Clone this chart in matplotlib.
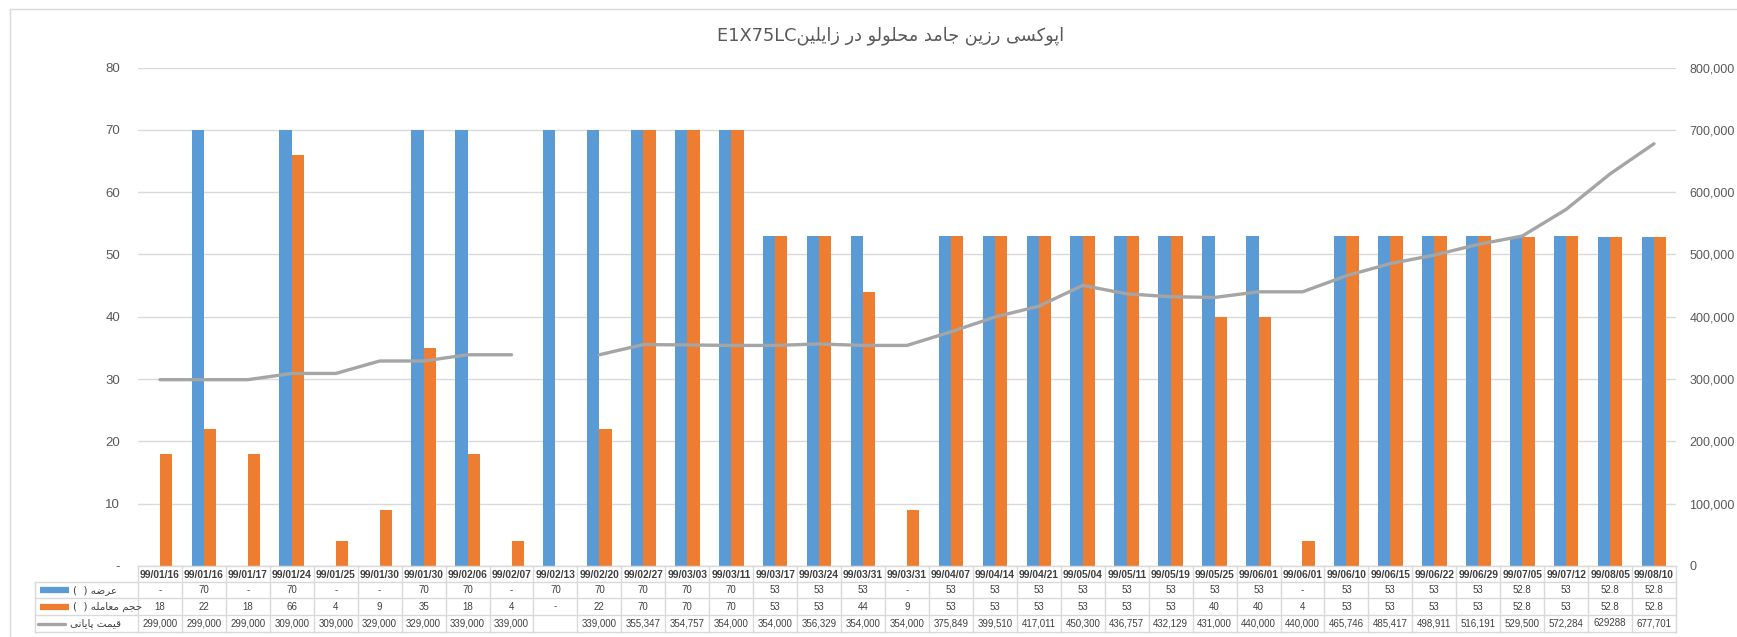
import numpy as np
import matplotlib
matplotlib.use("Agg")
import matplotlib.pyplot as plt
from matplotlib import transforms
from matplotlib.lines import Line2D

# ---- data -------------------------------------------------------------
dates = ["99/01/16", "99/01/16", "99/01/17", "99/01/24", "99/01/25", "99/01/30",
         "99/01/30", "99/02/06", "99/02/07", "99/02/13", "99/02/20", "99/02/27",
         "99/03/03", "99/03/11", "99/03/17", "99/03/24", "99/03/31", "99/03/31",
         "99/04/07", "99/04/14", "99/04/21", "99/05/04", "99/05/11", "99/05/19",
         "99/05/25", "99/06/01", "99/06/01", "99/06/10", "99/06/15", "99/06/22",
         "99/06/29", "99/07/05", "99/07/12", "99/08/05", "99/08/10"]

nan = np.nan
supply = [nan, 70, nan, 70, nan, nan, 70, 70, nan, 70, 70, 70, 70, 70, 53, 53, 53, nan,
          53, 53, 53, 53, 53, 53, 53, 53, nan, 53, 53, 53, 53, 52.8, 53, 52.8, 52.8]

volume = [18, 22, 18, 66, 4, 9, 35, 18, 4, nan, 22, 70, 70, 70, 53, 53, 44, 9,
          53, 53, 53, 53, 53, 53, 40, 40, 4, 53, 53, 53, 53, 52.8, 53, 52.8, 52.8]

price = [299000, 299000, 299000, 309000, 309000, 329000, 329000, 339000, 339000, nan,
         339000, 355347, 354757, 354000, 354000, 356329, 354000, 354000, 375849,
         399510, 417011, 450300, 436757, 432129, 431000, 440000, 440000, 465746,
         485417, 498911, 516191, 529500, 572284, 629288, 677701]

# price cells that are shown without a thousands separator
plain_price_cells = {33}

title_fa = "اپوکسی رزین جامد محلولو در زایلین"
title_code = "E1X75LC"
series_names = ["عرضه (  )", "حجم معامله (  )", "قیمت پایانی"]

left_ticks = [0, 10, 20, 30, 40, 50, 60, 70, 80]
right_ticks = [0, 100000, 200000, 300000, 400000, 500000, 600000, 700000, 800000]

BLUE = "#5B9BD5"
ORANGE = "#ED7D31"
GREY = "#A5A5A5"
GRID = "#D9D9D9"
TEXT = "#595959"
CELL_TEXT = "#404040"

# ---- minimal Persian shaping (contextual forms + visual order) ----------
FORMS = {
    'ا': ('\uFE8D', '\uFE8E', None, None),
    'د': ('\uFEA9', '\uFEAA', None, None),
    'ر': ('\uFEAD', '\uFEAE', None, None),
    'ز': ('\uFEAF', '\uFEB0', None, None),
    'و': ('\uFEED', '\uFEEE', None, None),
    'پ': ('\uFB56', '\uFB57', '\uFB58', '\uFB59'),
    'ت': ('\uFE95', '\uFE96', '\uFE97', '\uFE98'),
    'ج': ('\uFE9D', '\uFE9E', '\uFE9F', '\uFEA0'),
    'ح': ('\uFEA1', '\uFEA2', '\uFEA3', '\uFEA4'),
    'س': ('\uFEB1', '\uFEB2', '\uFEB3', '\uFEB4'),
    'ض': ('\uFEBD', '\uFEBE', '\uFEBF', '\uFEC0'),
    'ع': ('\uFEC9', '\uFECA', '\uFECB', '\uFECC'),
    'ق': ('\uFED5', '\uFED6', '\uFED7', '\uFED8'),
    'ک': ('\uFB8E', '\uFB8F', '\uFB90', '\uFB91'),
    'ل': ('\uFEDD', '\uFEDE', '\uFEDF', '\uFEE0'),
    'م': ('\uFEE1', '\uFEE2', '\uFEE3', '\uFEE4'),
    'ن': ('\uFEE5', '\uFEE6', '\uFEE7', '\uFEE8'),
    'ه': ('\uFEE9', '\uFEEA', '\uFEEB', '\uFEEC'),
    'ی': ('\uFBFC', '\uFBFD', '\uFBFE', '\uFBFF'),
}
MIRROR = {'(': ')', ')': '('}


def shape_rtl(text):
    out = []
    for i, ch in enumerate(text):
        forms = FORMS.get(ch)
        if forms is None:
            out.append(MIRROR.get(ch, ch))
            continue
        prev = text[i - 1] if i > 0 else ''
        nxt = text[i + 1] if i + 1 < len(text) else ''
        joins_prev = prev in FORMS and FORMS[prev][2] is not None
        joins_next = forms[2] is not None and nxt in FORMS
        if joins_prev and joins_next:
            g = forms[3]
        elif joins_prev:
            g = forms[1]
        elif joins_next:
            g = forms[2]
        else:
            g = forms[0]
        out.append(g)
    return ''.join(reversed(out))


# ---- figure & axes ------------------------------------------------------
W, H = 1737, 637
fig = plt.figure(figsize=(W / 100, H / 100), dpi=100)
fig.patch.set_facecolor("white")

# pixel-space transform (x from left, y from top)
px = transforms.Affine2D().scale(1 / W, -1 / H).translate(0, 1) + fig.transFigure

L, R, T, B = 138, 1676, 67.5, 566
ax = fig.add_axes([L / W, 1 - B / H, (R - L) / W, (B - T) / H])
n = len(dates)
x = np.arange(n)
bw = 0.28

ax.bar(x - bw / 2, supply, bw, color=BLUE, zorder=2)
ax.bar(x + bw / 2, volume, bw, color=ORANGE, zorder=2)
ax.set_xlim(-0.5, n - 0.5)
ax.set_ylim(0, 80)
ax.set_xticks([])
ax.set_yticks(left_ticks)
ax.set_yticklabels(["-" if v == 0 else str(v) for v in left_ticks])
ax.yaxis.grid(True, color=GRID, linewidth=1.0)
ax.set_axisbelow(True)
ax.tick_params(axis="y", length=0, pad=13, labelsize=9.5, labelcolor=TEXT)
for lab in ax.get_yticklabels():
    lab.set_family("Liberation Sans")
for s in ax.spines.values():
    s.set_visible(False)

ax2 = ax.twinx()
ax2.plot(x, price, color=GREY, linewidth=2.4, solid_capstyle="round", zorder=3)
ax2.set_ylim(0, 800000)
ax2.set_yticks(right_ticks)
ax2.set_yticklabels([f"{v:,.0f}" for v in right_ticks])
ax2.tick_params(axis="y", length=0, pad=9.5, labelsize=9, labelcolor=TEXT)
for lab in ax2.get_yticklabels():
    lab.set_family("Liberation Sans")
for s in ax2.spines.values():
    s.set_visible(False)

# ---- chart area border ----------------------------------------------------
fig.add_artist(Line2D([10, 10], [9, H], transform=px, color=GRID, lw=1.0))
fig.add_artist(Line2D([10, W], [9, 9], transform=px, color=GRID, lw=1.0))

# ---- title ------------------------------------------------------------------
fig.text(891, 36, title_code + shape_rtl(title_fa), transform=px,
         ha="center", va="center", fontsize=12.8, color=TEXT, family="DejaVu Sans")

# ---- data table -------------------------------------------------------------
row_edges = [B, 582, 598, 615, 632]
label_left = 35
tab = transforms.blended_transform_factory(ax.transData, px)

# horizontal rules
fig.add_artist(Line2D([L, R], [row_edges[0]] * 2, transform=px, color=GRID, lw=1.0))
for yy in row_edges[1:]:
    fig.add_artist(Line2D([label_left, R], [yy, yy], transform=px, color=GRID, lw=1.0))
# vertical rules
for i in range(n + 1):
    fig.add_artist(Line2D([i - 0.5, i - 0.5], [row_edges[0], row_edges[-1]],
                          transform=tab, color=GRID, lw=1.0))
fig.add_artist(Line2D([label_left, label_left], [row_edges[1], row_edges[-1]],
                      transform=px, color=GRID, lw=1.0))


def cell(v, fmt="{:g}", empty="-"):
    return empty if np.isnan(v) else fmt.format(v)


centres = [(row_edges[k] + row_edges[k + 1]) / 2 for k in range(4)]
for i in range(n):
    fig.text(i, centres[0] + 0.5, dates[i], transform=tab, ha="center", va="center",
             fontsize=7.4, fontweight="bold", color=CELL_TEXT, family="Liberation Sans")
    fig.text(i, centres[1], cell(supply[i]), transform=tab, ha="center", va="center",
             fontsize=7, color=CELL_TEXT, family="Liberation Sans")
    fig.text(i, centres[2], cell(volume[i]), transform=tab, ha="center", va="center",
             fontsize=7, color=CELL_TEXT, family="Liberation Sans")
    pfmt = "{:.0f}" if i in plain_price_cells else "{:,.0f}"
    fig.text(i, centres[3], cell(price[i], pfmt, ""), transform=tab, ha="center",
             va="center", fontsize=7, color=CELL_TEXT, family="Liberation Sans")

# legend keys in the label column
keys = [dict(color=BLUE, lw=4.5, solid_capstyle="butt"),
        dict(color=ORANGE, lw=4.5, solid_capstyle="butt"),
        dict(color=GREY, lw=2.4, solid_capstyle="round")]
key_x = [(40, 69), (40, 69), (38, 65)]
for k in range(3):
    fig.add_artist(Line2D(list(key_x[k]), [centres[k + 1]] * 2, transform=px, **keys[k]))
    fig.text(73 if k < 2 else 70, centres[k + 1] + 0.5, shape_rtl(series_names[k]),
             transform=px, ha="left", va="center", fontsize=7.5, color=CELL_TEXT,
             family="DejaVu Sans")

fig.savefig("out.png", dpi=100, facecolor="white")
